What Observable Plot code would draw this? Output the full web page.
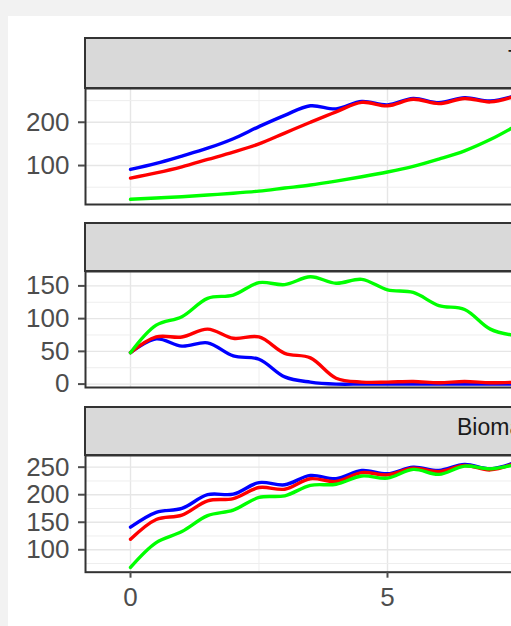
<!DOCTYPE html>
<html><head><meta charset="utf-8">
<script src="https://cdn.jsdelivr.net/npm/d3@7"></script>
<script src="https://cdn.jsdelivr.net/npm/@observablehq/plot@0.6"></script>
<style>
html,body{margin:0;padding:0;width:511px;height:626px;overflow:hidden;background:#f2f2f2;}
#sheet{position:absolute;left:8px;top:16px;width:503px;height:610px;background:#fff;}
.strip{position:absolute;left:84px;width:600px;background:#d9d9d9;border:2px solid #333;box-sizing:border-box;font:23px "Liberation Sans",Arial,sans-serif;color:#1a1a1a;}
.strip span{position:absolute;white-space:nowrap;line-height:23px;}
.panel{position:absolute;left:0;}
.panel text{font-size:26px;}
</style></head><body>
<div id="sheet"></div>
<div id="root"></div>
<script>
// ---- data ----
const timeSteps = [0, 0.5, 1, 1.5, 2, 2.5, 3, 3.5, 4, 4.5, 5, 5.5, 6, 6.5, 7, 7.5];
const seriesNames = ["Scenario A", "Scenario B", "Scenario C"];
const seriesColors = ["#0000ff", "#ff0000", "#00ff00"];
const panelTitles = ["Top predators", "Catch", "Biomass"];

// panel 1
const p1A = [91, 105, 122, 140, 162, 190, 216, 238, 231, 248, 240, 255, 245, 257, 249, 262];
const p1B = [71, 83, 97, 114, 131, 150, 175, 200, 224, 246, 238, 253, 243, 255, 247, 261];
const p1C = [22, 25, 28, 32, 36, 41, 48, 55, 64, 74, 85, 98, 115, 134, 160, 192];
// panel 2
const p2A = [48, 69, 58, 63, 43, 38, 11, 3, 0, 0, 0, 0, 0, 0, 0, 0];
const p2B = [48, 72, 72, 84, 70, 72, 47, 40, 9, 3, 3, 4, 2, 4, 2, 3];
const p2C = [48, 90, 103, 131, 136, 155, 152, 164, 154, 160, 144, 140, 120, 114, 84, 74];
// panel 3
const p3A = [141, 168, 175, 200, 201, 222, 218, 235, 229, 244, 238, 250, 244, 255, 247, 259];
const p3B = [119, 155, 163, 189, 193, 213, 210, 229, 224, 240, 236, 248, 242, 253, 245, 258];
const p3C = [68, 113, 133, 162, 172, 195, 198, 217, 219, 234, 230, 246, 237, 252, 247, 255];

const p1Ticks = [100, 200], p1Minor = [50, 150, 250];
const p2Ticks = [0, 50, 100, 150], p2Minor = [25, 75, 125];
const p3Ticks = [100, 150, 200, 250], p3Minor = [75, 125, 175, 225];
const xTicks = [0, 5], xMinor = [2.5, 7.5];

// ---- layout ----
const panels = [
  {series: [p1A, p1B, p1C], ticks: p1Ticks, minor: p1Minor, yDomain: [10, 278], stripTop: 37, top: 88, bottom: 204, titleLeft: 508},
  {series: [p2A, p2B, p2C], ticks: p2Ticks, minor: p2Minor, yDomain: [-5.2, 172], stripTop: 222, top: 270.7, bottom: 386.7, titleLeft: 530},
  {series: [p3A, p3B, p3C], ticks: p3Ticks, minor: p3Minor, yDomain: [59.3, 271.2], stripTop: 406, top: 455, bottom: 571.7, titleLeft: 457}
];
const W = 600, ML = 85;
const xDomain = [(ML - 130) / 51.4, (W - 130) / 51.4];
const root = document.getElementById("root");

panels.forEach((p, i) => {
  const last = i === panels.length - 1;
  const mt = 12, mb = last ? 50 : 12;
  const rows = [];
  p.series.forEach((vals, s) => vals.forEach((v, k) => rows.push({t: timeSteps[k], v, s: seriesNames[s]})));
  const marks = [
    Plot.gridX(xMinor, {stroke: "#eeeeee", strokeOpacity: 1, strokeWidth: 1}),
    Plot.gridX(xTicks, {stroke: "#e6e6e6", strokeOpacity: 1, strokeWidth: 1.4}),
    Plot.gridY(p.minor, {stroke: "#eeeeee", strokeOpacity: 1, strokeWidth: 1}),
    Plot.gridY(p.ticks, {stroke: "#e6e6e6", strokeOpacity: 1, strokeWidth: 1.4}),
    Plot.line(rows, {x: "t", y: "v", stroke: "s", z: "s", strokeWidth: 3.4, curve: "catmull-rom"}),
    Plot.frame({stroke: "#333", strokeWidth: 2}),
    Plot.axisY(p.ticks, {tickSize: 7, tickPadding: 9, fontSize: 26, strokeWidth: 2, label: null})
  ];
  if (last) marks.push(Plot.axisX(xTicks, {tickSize: 6, tickPadding: 9, fontSize: 26, strokeWidth: 2, label: null}));
  else marks.push(Plot.axisX([], {label: null, tickSize: 0}));
  const chart = Plot.plot({
    width: W,
    height: (p.bottom - p.top) + mt + mb,
    marginLeft: ML, marginRight: 0, marginTop: mt, marginBottom: mb,
    x: {domain: xDomain},
    y: {domain: p.yDomain},
    color: {domain: seriesNames, range: seriesColors},
    style: {maxWidth: "none", background: "transparent", overflow: "visible", color: "#4d4d4d", fontFamily: "'Liberation Sans', Arial, sans-serif"},
    marks
  });
  chart.classList.add("panel");
  chart.style.position = "absolute";
  chart.style.left = "0px";
  chart.style.top = (p.top - mt) + "px";
  root.appendChild(chart);

  const strip = document.createElement("div");
  strip.className = "strip";
  strip.style.top = p.stripTop + "px";
  strip.style.height = (p.top - p.stripTop + 1) + "px";
  const span = document.createElement("span");
  span.textContent = panelTitles[i];
  span.style.left = (p.titleLeft - 86) + "px";
  span.style.top = ((p.top - p.stripTop) / 2 - 17) + "px";
  strip.appendChild(span);
  root.appendChild(strip);
});
</script>
</body></html>
